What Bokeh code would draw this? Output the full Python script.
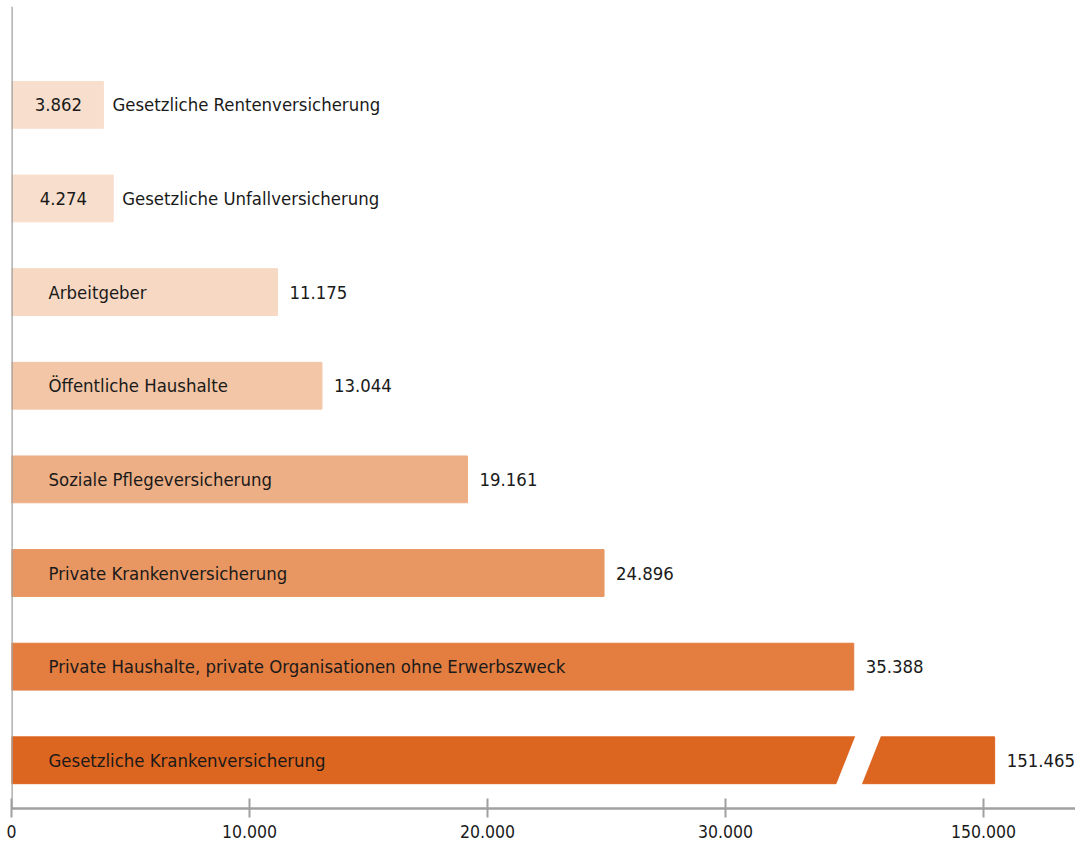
from bokeh.plotting import figure
from bokeh.models import Range1d, FixedTicker, Span, ColumnDataSource
from bokeh.core.properties import value
from bokeh.embed import file_html
from bokeh.resources import INLINE

# ---------------- data ----------------
categories = [
    "Gesetzliche Rentenversicherung",
    "Gesetzliche Unfallversicherung",
    "Arbeitgeber",
    "Öffentliche Haushalte",
    "Soziale Pflegeversicherung",
    "Private Krankenversicherung",
    "Private Haushalte, private Organisationen ohne Erwerbszweck",
    "Gesetzliche Krankenversicherung",
]
values = [3862, 4274, 11175, 13044, 19161, 24896, 35388, 151465]
value_labels = ["3.862", "4.274", "11.175", "13.044", "19.161", "24.896", "35.388", "151.465"]
bar_colors = ["#f8dfcd", "#f8dfcd", "#f6d8c3", "#f2c6a6", "#edaf86", "#e89662", "#e37d40", "#dc6520"]
tick_values = [0, 10000, 20000, 30000, 150000]
tick_labels = ["0", "10.000", "20.000", "30.000", "150.000"]

# ---------------- broken axis mapping ----------------
BREAK_LOW = 100000      # values above this are drawn beyond the axis break
BREAK_ORIGIN = 150000
BREAK_POS = 40840
BREAK_SCALE = 0.32
GAP_CENTER = 35590
GAP_WIDTH = 1080
GAP_SLANT = 840


def axis_pos(v):
    return v if v < BREAK_LOW else BREAK_POS + (v - BREAK_ORIGIN) * BREAK_SCALE


FONT = "DejaVu Sans Condensed, Roboto Condensed, Liberation Sans Narrow, Roboto"
TEXT_COLOR = "#1a1a1a"
AXIS_COLOR = "#a0a0a0"
BAR_H = 0.5
INSIDE_LIMIT = 5000

n = len(categories)
ys = [n - 1 - i for i in range(n)]
pos = [axis_pos(v) for v in values]

p = figure(width=1075, height=840, output_backend="svg", toolbar_location=None,
           x_range=Range1d(0, 44706), y_range=Range1d(-0.515, 8.05),
           min_border_left=11, min_border_right=0, min_border_top=6, min_border_bottom=0)
p.outline_line_color = None
p.xgrid.visible = False
p.ygrid.visible = False
p.yaxis.visible = False
p.background_fill_color = "white"

src = ColumnDataSource(dict(y=ys, right=pos, color=bar_colors))
p.hbar(y="y", left=0, right="right", height=BAR_H, color="color", source=src)

# break gap on the long bar
for yv, v in zip(ys, values):
    if v >= BREAK_LOW:
        top, bot = yv + BAR_H / 2 + 0.02, yv - BAR_H / 2 - 0.02
        xs = [GAP_CENTER - GAP_WIDTH / 2 - GAP_SLANT / 2, GAP_CENTER + GAP_WIDTH / 2 - GAP_SLANT / 2,
              GAP_CENTER + GAP_WIDTH / 2 + GAP_SLANT / 2, GAP_CENTER - GAP_WIDTH / 2 + GAP_SLANT / 2]
        p.patch(xs, [bot, bot, top, top], color="white", line_width=0)

# labels
in_cat = dict(x=[], y=[], t=[])
out_val = dict(x=[], y=[], t=[])
in_val = dict(x=[], y=[], t=[])
out_cat = dict(x=[], y=[], t=[])
for yv, v, ps, c, lbl in zip(ys, values, pos, categories, value_labels):
    if v < INSIDE_LIMIT:
        in_val["x"].append(ps / 2); in_val["y"].append(yv); in_val["t"].append(lbl)
        out_cat["x"].append(ps); out_cat["y"].append(yv); out_cat["t"].append(c)
    else:
        in_cat["x"].append(0); in_cat["y"].append(yv); in_cat["t"].append(c)
        out_val["x"].append(ps); out_val["y"].append(yv); out_val["t"].append(lbl)

common = dict(text_font=value(FONT), text_font_size="18.4px", text_color=TEXT_COLOR,
              text_baseline="middle")
p.text(x="x", y="y", text="t", source=ColumnDataSource(in_cat), x_offset=37, text_align="left", **common)
p.text(x="x", y="y", text="t", source=ColumnDataSource(out_val), x_offset=12, text_align="left", **common)
p.text(x="x", y="y", text="t", source=ColumnDataSource(in_val), x_offset=1, text_align="center", **common)
p.text(x="x", y="y", text="t", source=ColumnDataSource(out_cat), x_offset=9, text_align="left", **common)

# left axis line
p.add_layout(Span(location=0, dimension="height", line_color=AXIS_COLOR, line_width=2.5))

# x axis
ax = p.xaxis[0]
ax.ticker = FixedTicker(ticks=[axis_pos(t) for t in tick_values])
ax.major_label_overrides = {axis_pos(t): l for t, l in zip(tick_values, tick_labels)}
ax.axis_line_color = AXIS_COLOR
ax.axis_line_width = 2.5
ax.major_tick_line_color = AXIS_COLOR
ax.major_tick_line_width = 2
ax.major_tick_in = 10
ax.major_tick_out = 9
ax.minor_tick_line_color = None
ax.major_label_text_font = FONT
ax.major_label_text_font_size = "17.5px"
ax.major_label_text_color = TEXT_COLOR
ax.major_label_standoff = 7

open("out.html", "w").write(file_html(p, INLINE))
